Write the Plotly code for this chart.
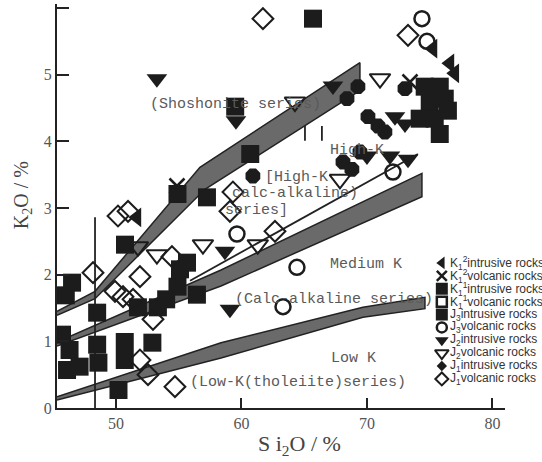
import plotly.graph_objects as go

# ---------------- data (SiO2 %, K2O %) ----------------
k12_intr_x = [51.67, 75.26, 76.61, 77.0]
k12_intr_y = [2.86, 5.39, 5.17, 5.02]

k12_volc_x = [73.43, 54.86]
k12_volc_y = [4.89, 3.33]

k11_intr_x = [46.5, 46.0, 48.5, 45.7, 46.3, 46.1, 47.1, 48.5, 48.6, 50.7, 50.7, 50.2, 52.9, 50.72, 54.9, 57.25]
k11_intr_y = [1.88, 1.69, 1.43, 1.10, 0.87, 0.57, 0.62, 0.95, 0.68, 0.99, 0.72, 0.27, 0.98, 2.45, 3.21, 3.16]

k11_volc_x = []
k11_volc_y = []

j3_intr_x = [65.7, 59.5, 60.7, 51.75, 53.34, 54.9, 55.1, 55.66, 56.45, 54.0,
             74.6, 75.8, 75.0, 76.2, 74.2, 75.4, 76.45, 75.8]
j3_intr_y = [5.84, 4.52, 3.81, 1.51, 1.51, 1.82, 2.08, 2.18, 1.70, 1.63,
             4.82, 4.82, 4.56, 4.64, 4.34, 4.34, 4.46, 4.11]

j3_volc_x = [74.38, 74.78, 59.64, 64.42, 63.31, 72.07]
j3_volc_y = [5.84, 5.50, 2.61, 2.11, 1.52, 3.54]

j2_intr_x = [53.26, 59.56, 67.29, 72.23, 73.03, 71.83, 73.27, 58.68, 59.08, 70.0]
j2_intr_y = [4.94, 4.31, 4.83, 4.37, 4.26, 3.78, 3.73, 2.35, 1.48, 3.78]

j2_volc_x = [64.26, 71.04, 67.85, 53.26, 56.93, 51.75, 61.3]
j2_volc_y = [4.59, 4.94, 3.43, 2.30, 2.45, 2.42, 2.45]

j1_intr_x = []
j1_intr_y = []

j1_volc_x = [61.71, 73.27, 50.16, 50.96, 48.17, 51.91, 49.92, 50.56, 51.36, 52.95,
             51.91, 52.55, 54.7, 59.32, 59.08, 62.67, 54.46]
j1_volc_y = [5.84, 5.59, 2.88, 2.95, 2.03, 1.97, 1.75, 1.67, 1.63, 1.33,
             0.72, 0.50, 0.32, 3.24, 2.95, 2.65, 2.27]

dots_x = [69.28, 68.41, 73.03, 70.08, 70.88, 71.43, 69.44, 68.09, 68.8, 60.91]
dots_y = [4.82, 4.64, 4.79, 4.37, 4.23, 4.14, 3.84, 3.69, 3.58, 3.48]

# classification boundary bands (polygons)
band_a_x = [45.3, 48.33, 56.69, 69.44, 69.44, 57.09, 48.33, 45.3]
band_a_y = [1.45, 1.75, 3.61, 5.18, 4.76, 3.28, 1.64, 1.39]
band_b_x = [45.3, 58.37, 74.38, 74.38, 58.37, 45.3]
band_b_y = [0.99, 2.07, 3.52, 3.17, 1.83, 0.93]
band_c_x = [45.3, 58.37, 69.68, 74.62, 74.62, 69.68, 58.37, 45.3]
band_c_y = [0.17, 0.98, 1.51, 1.66, 1.49, 1.36, 0.75, 0.12]
thin_line_x = [55.9, 74.06]
thin_line_y = [1.91, 3.81]
vline_x = [48.33, 48.33]
vline_y = [0.0, 2.86]
bar1_x = [65.06, 65.06]
bar2_x = [66.41, 66.41]
bar_y = [4.01, 4.23]

x_ticks = [50, 60, 70, 80]
y_ticks = [0, 1, 2, 3, 4, 5, 6]

legend_labels = [
    "K<sub>1</sub><sup>2</sup>intrusive rocks",
    "K<sub>1</sub><sup>2</sup>volcanic rocks",
    "K<sub>1</sub><sup>1</sup>intrusive rocks",
    "K<sub>1</sub><sup>1</sup>volcanic rocks",
    "J<sub>3</sub>intrusive rocks",
    "J<sub>3</sub>volcanic rocks",
    "J<sub>2</sub>intrusive rocks",
    "J<sub>2</sub>volcanic rocks",
    "J<sub>1</sub>intrusive rocks",
    "J<sub>1</sub>volcanic rocks",
]

INK = "#1c1c1c"
styles = [
    dict(symbol="triangle-left", size=17, color=INK),
    dict(symbol="x-thin-open", size=15, color=INK, line=dict(width=2.5, color=INK)),
    dict(symbol="square", size=18, color=INK),
    dict(symbol="square-open", size=15, color=INK, line=dict(width=2.5, color=INK)),
    dict(symbol="square", size=18, color=INK),
    dict(symbol="circle-open", size=15, color=INK, line=dict(width=2.5, color=INK)),
    dict(symbol="triangle-down", size=18, color=INK),
    dict(symbol="triangle-down-open", size=18, color=INK, line=dict(width=2, color=INK)),
    dict(symbol="diamond", size=11, color=INK),
    dict(symbol="diamond-open", size=16, color=INK, line=dict(width=2, color=INK)),
]
series = [
    (k12_intr_x, k12_intr_y), (k12_volc_x, k12_volc_y),
    (k11_intr_x, k11_intr_y), (k11_volc_x, k11_volc_y),
    (j3_intr_x, j3_intr_y), (j3_volc_x, j3_volc_y),
    (j2_intr_x, j2_intr_y), (j2_volc_x, j2_volc_y),
    (j1_intr_x, j1_intr_y), (j1_volc_x, j1_volc_y),
]

fig = go.Figure()

BAND_FILL = "#6a6a6a"
for bx, by in [(band_a_x, band_a_y), (band_b_x, band_b_y), (band_c_x, band_c_y)]:
    fig.add_trace(go.Scatter(x=bx, y=by, mode="lines", fill="toself", fillcolor=BAND_FILL,
                             line=dict(color="#222", width=1.5), showlegend=False, hoverinfo="skip"))
for lx, ly in [(thin_line_x, thin_line_y), (vline_x, vline_y), (bar1_x, bar_y), (bar2_x, bar_y)]:
    fig.add_trace(go.Scatter(x=lx, y=ly, mode="lines", line=dict(color="#222", width=1.8),
                             showlegend=False, hoverinfo="skip"))

fig.add_trace(go.Scatter(x=dots_x, y=dots_y, mode="markers",
                         marker=dict(symbol="octagon", size=16, color=INK), showlegend=False))

for (sx, sy), st, lab in zip(series, styles, legend_labels):
    fig.add_trace(go.Scatter(x=sx, y=sy, mode="markers", marker=st, name=lab, showlegend=False))

# hand-made legend on an overlay axis (rows indexed)
n = len(legend_labels)
row_y = [0.359 - i * 0.0319 for i in range(n)]
for i, (st, lab) in enumerate(zip(styles, legend_labels)):
    s = dict(st)
    s["size"] = max(8, int(st["size"] * 0.68))
    fig.add_trace(go.Scatter(x=[0.859], y=[row_y[i]], mode="markers", marker=s,
                             xaxis="x2", yaxis="y2", showlegend=False, hoverinfo="skip"))
    fig.add_annotation(x=0.872, y=row_y[i], xref="x2", yref="y2", text=lab, showarrow=False,
                       xanchor="left", yanchor="middle",
                       font=dict(family="Liberation Sans", size=12, color="#333"))

ann_font = dict(family="Liberation Mono", size=15, color="#5a5a5a")
texts = [
    ("(Shoshonite series)", 52.55, 4.55),
    ("High-K", 66.9, 3.86),
    ("[High-K", 61.7, 3.46),
    ("calc-alkaline)", 59.1, 3.22),
    ("series]", 58.5, 2.97),
    ("Medium K", 66.9, 2.15),
    ("(Calc-alkaline series)", 59.3, 1.63),
    ("Low K", 67.0, 0.75),
    ("(Low-K(tholeiite)series)", 55.7, 0.39),
]
for t, tx, ty in texts:
    fig.add_annotation(x=tx, y=ty, text=t, showarrow=False, xanchor="left", yanchor="middle",
                       font=ann_font)

# axis titles
fig.add_annotation(x=0.542, y=-0.092, xref="paper", yref="paper", text="S i<sub>2</sub>O / %",
                   xanchor="center", yanchor="middle",
                   showarrow=False, font=dict(family="Liberation Serif", size=22, color="#444"))
fig.add_annotation(x=-0.078, y=0.527, xref="paper", yref="paper", text="K<sub>2</sub>O / %",
                   xanchor="center", yanchor="middle",
                   textangle=-90, showarrow=False,
                   font=dict(family="Liberation Serif", size=20, color="#444"))

axis_common = dict(showgrid=False, zeroline=False, showline=True, linecolor="#222", linewidth=2,
                   ticks="inside", tickcolor="#222", tickwidth=2,
                   tickfont=dict(family="Liberation Serif", size=16, color="#555"))
fig.update_layout(
    width=542, height=462, margin=dict(l=57, r=37, t=4, b=54),
    paper_bgcolor="white", plot_bgcolor="white", showlegend=False,
    xaxis=dict(range=[45.3, 81.0], tickvals=x_ticks, ticklen=10, ticklabelstandoff=0, **axis_common),
    yaxis=dict(range=[0, 6.06], tickvals=y_ticks, ticklen=12, **axis_common),
    xaxis2=dict(range=[0, 1], overlaying="x", visible=False, fixedrange=True),
    yaxis2=dict(range=[0, 1], overlaying="y", visible=False, fixedrange=True),
)
fig.write_html("out.html")
